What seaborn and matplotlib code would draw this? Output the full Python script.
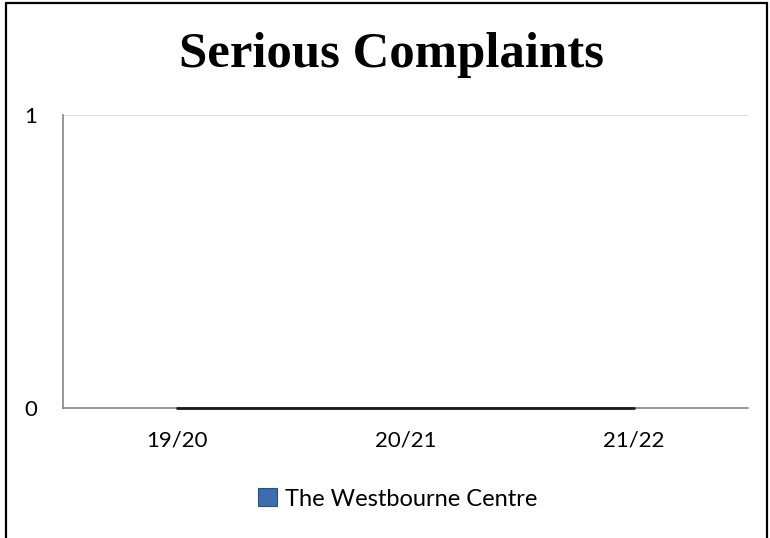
import matplotlib
matplotlib.use("Agg")
import matplotlib.pyplot as plt
import seaborn as sns
import pandas as pd
from matplotlib.patches import Patch, Rectangle

categories = ["19/20", "20/21", "21/22"]
values = [0, 0, 0]
series_name = "The Westbourne Centre"
title = "Serious Complaints"
y_ticks = [0, 1]

sns.set_style("white")
plt.rcParams['font.family'] = ['Lato', 'DejaVu Sans']
plt.rcParams['text.color'] = 'black'
plt.rcParams['xtick.labelcolor'] = 'black'
plt.rcParams['ytick.labelcolor'] = 'black'

df = pd.DataFrame({"x": list(range(len(categories))), "v": values})

fig = plt.figure(figsize=(7.7, 5.38), dpi=100)
ax = fig.add_axes([63/770, 1-408/538, (748-63)/770, (408-115)/538])

ax.axhline(1, color="#D9D9D9", lw=1.2, zorder=0)
sns.lineplot(data=df, x="x", y="v", ax=ax, color="#1a1a1a", lw=2, zorder=5, clip_on=False, legend=False)

ax.set_xlim(-0.5, len(categories) - 0.5)
ax.set_ylim(0, 1)
ax.set_yticks(y_ticks)
ax.set_yticklabels([str(t) for t in y_ticks], fontsize=16)
ax.set_xticks(range(len(categories)))
ax.set_xticklabels(categories, fontsize=16)
ax.set_xticks([i - 0.5 for i in range(len(categories) + 1)], minor=True)
ax.tick_params(axis="x", which="major", length=0, pad=16)
ax.tick_params(axis="x", which="minor", length=6, width=1.2, color="#868686", direction="out")
ax.tick_params(axis="y", which="major", length=5.5, width=1.2, color="#868686", direction="out", pad=13)
ax.set_xlabel("")
ax.set_ylabel("")
for s in ["top", "right"]:
    ax.spines[s].set_visible(False)
for s in ["left", "bottom"]:
    ax.spines[s].set_color("#868686")
    ax.spines[s].set_linewidth(1.2)

fig.text(392/770, 1 - 67/538, title, ha="center", va="baseline", fontsize=36.5,
         fontweight="bold", color="black", family=["Liberation Serif", "DejaVu Serif"])

handle = Patch(facecolor="#3C6DB0", edgecolor="#2A4F85", linewidth=0.8)
fig.legend([handle], [series_name], loc="center", bbox_to_anchor=(398/770, 1 - 499/538),
           frameon=False, fontsize=17, handlelength=0.8, handleheight=0.8, handletextpad=0.35)

fig.patches.append(Rectangle((6/770, -0.1), (767-6)/770, 1.1 - 3/538, transform=fig.transFigure,
                             fill=False, edgecolor="black", lw=1.6))

fig.savefig("out.png", dpi=100)
